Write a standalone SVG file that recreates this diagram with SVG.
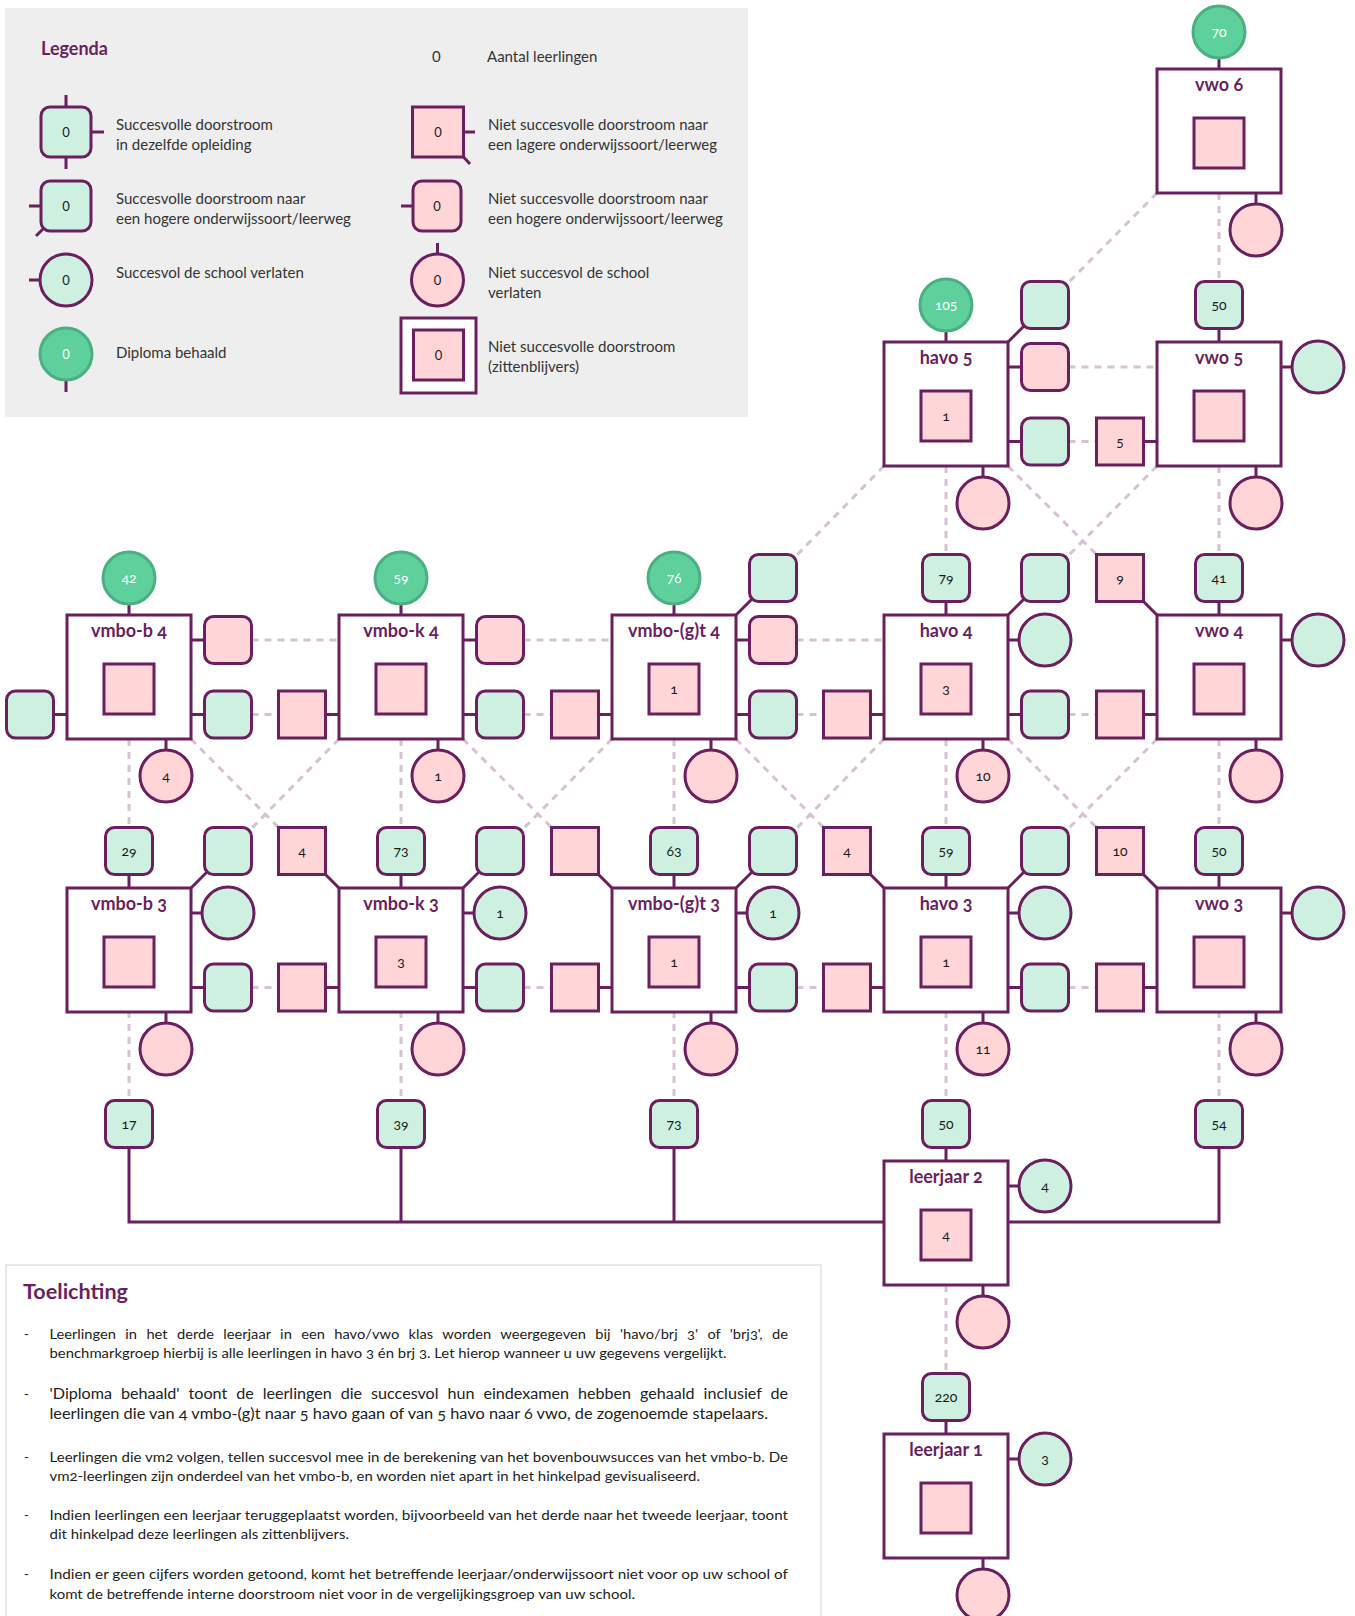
<svg xmlns="http://www.w3.org/2000/svg" width="1355" height="1616" viewBox="0 0 1355 1616">
<style>
.box{fill:#fff;stroke:#6b1f5f;stroke-width:3}
.g{fill:#cdf0e0;stroke:#6b1f5f;stroke-width:3}
.p{fill:#ffd5d8;stroke:#6b1f5f;stroke-width:3}
.d{fill:#5dd09c;stroke:#4caf82;stroke-width:3}
.c{fill:none;stroke:#6b1f5f;stroke-width:3}
.ds{fill:none;stroke:#d8c0d5;stroke-width:3;stroke-dasharray:7 6}
.t{font-family:Lato,"Open Sans","DejaVu Sans",sans-serif;font-weight:700;font-size:18px;fill:#6b1f5f;text-anchor:middle;font-variant-numeric:oldstyle-nums}
.n{font-family:Lato,"Open Sans","DejaVu Sans",sans-serif;font-size:14px;fill:#1a1a1a;text-anchor:middle;font-variant-numeric:oldstyle-nums}
.l0{font-family:Lato,"Open Sans","DejaVu Sans",sans-serif;font-size:13px;fill:#1a1a1a;text-anchor:middle}
.w{fill:#fff}
.lg{font-family:Lato,"Open Sans","DejaVu Sans",sans-serif;font-size:15px;fill:#333}
.h{font-family:Lato,"Open Sans","DejaVu Sans",sans-serif;font-weight:700;fill:#6b1f5f}
.b{font-family:Lato,"Open Sans","DejaVu Sans",sans-serif;font-size:13px;fill:#222;font-variant-numeric:oldstyle-nums}
.b2{font-family:Lato,"Open Sans","DejaVu Sans",sans-serif;font-size:14.5px;fill:#222;font-variant-numeric:oldstyle-nums}
</style>

<!-- Legend -->
<g id="legenda">
<rect x="5" y="8" width="743" height="409" fill="#eeeeee"/>
<text class="h" x="41" y="55" font-size="18">Legenda</text>
<text class="lg" x="432" y="62">0</text>
<text class="lg" x="487" y="62">Aantal leerlingen</text>
<path class="c" d="M66 95V107M66 157V169M91 132H104M29 206H41M44 228L36 236M29 280H40M66 380V392M463.5 132H475M463.5 157L470 164M401 206H413M437.5 243V254"/>
<rect class="g" x="41" y="107" width="50" height="50" rx="9"/>
<text class="l0" x="66" y="137">0</text>
<text class="lg" x="116" y="130">Succesvolle doorstroom</text>
<text class="lg" x="116" y="150">in dezelfde opleiding</text>
<rect class="g" x="41" y="181" width="50" height="50" rx="9"/>
<text class="l0" x="66" y="211">0</text>
<text class="lg" x="116" y="204">Succesvolle doorstroom naar</text>
<text class="lg" x="116" y="224">een hogere onderwijssoort/leerweg</text>
<circle class="g" cx="66" cy="280" r="26"/>
<text class="l0" x="66" y="285">0</text>
<text class="lg" x="116" y="278">Succesvol de school verlaten</text>
<circle class="d" cx="66" cy="354" r="26"/>
<text class="l0 w" x="66" y="359">0</text>
<text class="lg" x="116" y="358">Diploma behaald</text>
<rect class="p" x="412.5" y="107" width="51" height="50"/>
<text class="l0" x="438" y="137">0</text>
<text class="lg" x="488" y="130">Niet succesvolle doorstroom naar</text>
<text class="lg" x="488" y="150">een lagere onderwijssoort/leerweg</text>
<rect class="p" x="413" y="181" width="48" height="50" rx="9"/>
<text class="l0" x="437" y="211">0</text>
<text class="lg" x="488" y="204">Niet succesvolle doorstroom naar</text>
<text class="lg" x="488" y="224">een hogere onderwijssoort/leerweg</text>
<circle class="p" cx="437.5" cy="280" r="26"/>
<text class="l0" x="437.5" y="285">0</text>
<text class="lg" x="488" y="278">Niet succesvol de school</text>
<text class="lg" x="488" y="298">verlaten</text>
<rect class="box" x="401" y="318" width="75" height="75"/>
<rect class="p" x="413.5" y="330" width="50" height="50"/>
<text class="l0" x="438.5" y="360">0</text>
<text class="lg" x="488" y="352">Niet succesvolle doorstroom</text>
<text class="lg" x="488" y="372">(zittenblijvers)</text>
</g>

<!-- Connectors -->
<g id="connectors">
<path class="ds" d="M1219 193V281.5M1157 193L1067 284M1068.5 367H1157M1068.5 441.5H1096.5M946 466V554.5M1219 466V554.5M884 466L795 557M1008 466L1096.5 554.5M1157 466L1067 557"/>
<path class="ds" d="M251.5 640H339M523.5 640H612M796.5 640H884M251.5 714.5H278.5M523.5 714.5H551.5M796.5 714.5H823.5M1068.5 714.5H1096.5"/>
<path class="ds" d="M129 739V827.5M401 739V827.5M674 739V827.5M946 739V827.5M1219 739V827.5M191 739L278.5 827.5M339 739L250 830M463 739L551.5 827.5M612 739L522 830M736 739L823.5 827.5M884 739L795 830M1008 739L1096.5 827.5M1157 739L1067 830"/>
<path class="ds" d="M251.5 987.5H278.5M523.5 987.5H551.5M796.5 987.5H823.5M1068.5 987.5H1096.5M129 1011V1100.5M401 1011V1100.5M674 1011V1100.5M946 1011V1100.5M1219 1011V1100.5M946 1285V1373.5"/>
<path class="c" d="M1219 58V69M1256 193V204"/>
<path class="c" d="M946 331V342M1008 342L1024 326M1008 367H1021.5M1008 441.5H1021.5M983 466V477M1219 328.5V342M1143.5 441.5H1157M1281 367H1292M1256 466V477"/>
<path class="c" d="M129 604V615M191 640H204.5M191 714.5H204.5M53.5 714.5H67M166 739V750"/>
<path class="c" d="M401 604V615M463 640H476.5M463 714.5H476.5M325.5 714.5H339M438 739V750"/>
<path class="c" d="M674 604V615M736 615L752 599M736 640H749.5M736 714.5H749.5M598.5 714.5H612M711 739V750"/>
<path class="c" d="M946 601.5V615M1008 615L1024 599M1008 640H1019M1008 714.5H1021.5M870.5 714.5H884M983 739V750"/>
<path class="c" d="M1219 601.5V615M1143.5 601.5L1157 615M1281 640H1292M1143.5 714.5H1157M1256 739V750"/>
<path class="c" d="M129 874.5V888M191 888L207 872M191 913H202M191 987.5H204.5M166 1011V1023"/>
<path class="c" d="M401 874.5V888M325.5 874.5L339 888M463 888L479 872M463 913H474M463 987.5H476.5M325.5 987.5H339M438 1011V1023"/>
<path class="c" d="M674 874.5V888M598.5 874.5L612 888M736 888L752 872M736 913H747M736 987.5H749.5M598.5 987.5H612M711 1011V1023"/>
<path class="c" d="M946 874.5V888M870.5 874.5L884 888M1008 888L1024 872M1008 913H1019M1008 987.5H1021.5M870.5 987.5H884M983 1011V1023"/>
<path class="c" d="M1219 874.5V888M1143.5 874.5L1157 888M1281 913H1292M1143.5 987.5H1157M1256 1011V1023"/>
<path class="c" d="M129 1147.5V1222H884M401 1147.5V1222M674 1147.5V1222M946 1147.5V1161M1219 1147.5V1222H1008M1008 1186H1019M983 1285V1296"/>
<path class="c" d="M946 1420.5V1434M1008 1459H1019M983 1558V1569"/>
</g>

<!-- vwo 6 -->
<g id="vwo6">
<rect class="box" x="1157" y="69" width="124" height="124"/>
<text class="t" x="1219" y="91">vwo 6</text>
<rect class="p" x="1194" y="118" width="50" height="50"/>
</g>
<g id="vwo6-diploma"><circle class="d" cx="1219" cy="32" r="26"/><text class="n w" x="1219" y="37">70</text></g>
<g id="vwo6-uit"><circle class="p" cx="1256" cy="230" r="26"/></g>

<!-- havo 5 -->
<g id="havo5">
<rect class="box" x="884" y="342" width="124" height="124"/>
<text class="t" x="946" y="364">havo 5</text>
<rect class="p" x="921" y="391" width="50" height="50"/>
<text class="n" x="946" y="421">1</text>
</g>
<g id="havo5-diploma"><circle class="d" cx="946" cy="305" r="26"/><text class="n w" x="946" y="310">105</text></g>
<g id="havo5-vwo6"><rect class="g" x="1021.5" y="281.5" width="47" height="47" rx="9"/></g>
<g id="havo5-vwo5-niet"><rect class="p" x="1021.5" y="343.5" width="47" height="47" rx="9"/></g>
<g id="havo5-vwo5"><rect class="g" x="1021.5" y="418" width="47" height="47" rx="9"/></g>
<g id="havo5-uit"><circle class="p" cx="983" cy="503" r="26"/></g>

<!-- vwo 5 -->
<g id="vwo5">
<rect class="box" x="1157" y="342" width="124" height="124"/>
<text class="t" x="1219" y="364">vwo 5</text>
<rect class="p" x="1194" y="391" width="50" height="50"/>
</g>
<g id="vwo5-vwo6"><rect class="g" x="1195.5" y="281.5" width="47" height="47" rx="9"/><text class="n" x="1219" y="310">50</text></g>
<g id="vwo5-havo5"><rect class="p" x="1096.5" y="418" width="47" height="47"/><text class="n" x="1120" y="446.5">5</text></g>
<g id="vwo5-succes"><circle class="g" cx="1318" cy="367" r="26"/></g>
<g id="vwo5-uit"><circle class="p" cx="1256" cy="503" r="26"/></g>

<!-- vmbo-b 4 -->
<g id="vmbo-b4">
<rect class="box" x="67" y="615" width="124" height="124"/>
<text class="t" x="129" y="637">vmbo-b 4</text>
<rect class="p" x="104" y="664" width="50" height="50"/>
</g>
<g id="vmbo-b4-diploma"><circle class="d" cx="129" cy="578" r="26"/><text class="n w" x="129" y="583">42</text></g>
<g id="vmbo-b4-k4-niet"><rect class="p" x="204.5" y="616.5" width="47" height="47" rx="9"/></g>
<g id="vmbo-b4-k4"><rect class="g" x="204.5" y="691" width="47" height="47" rx="9"/></g>
<g id="vmbo-b4-in"><rect class="g" x="6.5" y="691" width="47" height="47" rx="9"/></g>
<g id="vmbo-b4-uit"><circle class="p" cx="166" cy="776" r="26"/><text class="n" x="166" y="781">4</text></g>

<!-- vmbo-k 4 -->
<g id="vmbo-k4">
<rect class="box" x="339" y="615" width="124" height="124"/>
<text class="t" x="401" y="637">vmbo-k 4</text>
<rect class="p" x="376" y="664" width="50" height="50"/>
</g>
<g id="vmbo-k4-diploma"><circle class="d" cx="401" cy="578" r="26"/><text class="n w" x="401" y="583">59</text></g>
<g id="vmbo-k4-gt4-niet"><rect class="p" x="476.5" y="616.5" width="47" height="47" rx="9"/></g>
<g id="vmbo-k4-gt4"><rect class="g" x="476.5" y="691" width="47" height="47" rx="9"/></g>
<g id="vmbo-k4-b4"><rect class="p" x="278.5" y="691" width="47" height="47"/></g>
<g id="vmbo-k4-uit"><circle class="p" cx="438" cy="776" r="26"/><text class="n" x="438" y="781">1</text></g>

<!-- vmbo-(g)t 4 -->
<g id="vmbo-gt4">
<rect class="box" x="612" y="615" width="124" height="124"/>
<text class="t" x="674" y="637">vmbo-(g)t 4</text>
<rect class="p" x="649" y="664" width="50" height="50"/>
<text class="n" x="674" y="694">1</text>
</g>
<g id="vmbo-gt4-diploma"><circle class="d" cx="674" cy="578" r="26"/><text class="n w" x="674" y="583">76</text></g>
<g id="vmbo-gt4-havo5"><rect class="g" x="749.5" y="554.5" width="47" height="47" rx="9"/></g>
<g id="vmbo-gt4-havo4-niet"><rect class="p" x="749.5" y="616.5" width="47" height="47" rx="9"/></g>
<g id="vmbo-gt4-havo4"><rect class="g" x="749.5" y="691" width="47" height="47" rx="9"/></g>
<g id="vmbo-gt4-k4"><rect class="p" x="551.5" y="691" width="47" height="47"/></g>
<g id="vmbo-gt4-uit"><circle class="p" cx="711" cy="776" r="26"/></g>

<!-- havo 4 -->
<g id="havo4">
<rect class="box" x="884" y="615" width="124" height="124"/>
<text class="t" x="946" y="637">havo 4</text>
<rect class="p" x="921" y="664" width="50" height="50"/>
<text class="n" x="946" y="694">3</text>
</g>
<g id="havo4-havo5"><rect class="g" x="922.5" y="554.5" width="47" height="47" rx="9"/><text class="n" x="946" y="583">79</text></g>
<g id="havo4-vwo5"><rect class="g" x="1021.5" y="554.5" width="47" height="47" rx="9"/></g>
<g id="havo4-succes"><circle class="g" cx="1045" cy="640" r="26"/></g>
<g id="havo4-vwo4"><rect class="g" x="1021.5" y="691" width="47" height="47" rx="9"/></g>
<g id="havo4-gt4"><rect class="p" x="823.5" y="691" width="47" height="47"/></g>
<g id="havo4-uit"><circle class="p" cx="983" cy="776" r="26"/><text class="n" x="983" y="781">10</text></g>

<!-- vwo 4 -->
<g id="vwo4">
<rect class="box" x="1157" y="615" width="124" height="124"/>
<text class="t" x="1219" y="637">vwo 4</text>
<rect class="p" x="1194" y="664" width="50" height="50"/>
</g>
<g id="vwo4-vwo5"><rect class="g" x="1195.5" y="554.5" width="47" height="47" rx="9"/><text class="n" x="1219" y="583">41</text></g>
<g id="vwo4-havo5"><rect class="p" x="1096.5" y="554.5" width="47" height="47"/><text class="n" x="1120" y="583">9</text></g>
<g id="vwo4-succes"><circle class="g" cx="1318" cy="640" r="26"/></g>
<g id="vwo4-havo4"><rect class="p" x="1096.5" y="691" width="47" height="47"/></g>
<g id="vwo4-uit"><circle class="p" cx="1256" cy="776" r="26"/></g>

<!-- vmbo-b 3 -->
<g id="vmbo-b3">
<rect class="box" x="67" y="888" width="124" height="124"/>
<text class="t" x="129" y="910">vmbo-b 3</text>
<rect class="p" x="104" y="937" width="50" height="50"/>
</g>
<g id="vmbo-b3-b4"><rect class="g" x="105.5" y="827.5" width="47" height="47" rx="9"/><text class="n" x="129" y="856">29</text></g>
<g id="vmbo-b3-k4"><rect class="g" x="204.5" y="827.5" width="47" height="47" rx="9"/></g>
<g id="vmbo-b3-succes"><circle class="g" cx="228" cy="913" r="26"/></g>
<g id="vmbo-b3-k3"><rect class="g" x="204.5" y="964" width="47" height="47" rx="9"/></g>
<g id="vmbo-b3-uit"><circle class="p" cx="166" cy="1049" r="26"/></g>

<!-- vmbo-k 3 -->
<g id="vmbo-k3">
<rect class="box" x="339" y="888" width="124" height="124"/>
<text class="t" x="401" y="910">vmbo-k 3</text>
<rect class="p" x="376" y="937" width="50" height="50"/>
<text class="n" x="401" y="967">3</text>
</g>
<g id="vmbo-k3-k4"><rect class="g" x="377.5" y="827.5" width="47" height="47" rx="9"/><text class="n" x="401" y="856">73</text></g>
<g id="vmbo-k3-b4"><rect class="p" x="278.5" y="827.5" width="47" height="47"/><text class="n" x="302" y="856">4</text></g>
<g id="vmbo-k3-gt4"><rect class="g" x="476.5" y="827.5" width="47" height="47" rx="9"/></g>
<g id="vmbo-k3-succes"><circle class="g" cx="500" cy="913" r="26"/><text class="n" x="500" y="918">1</text></g>
<g id="vmbo-k3-gt3"><rect class="g" x="476.5" y="964" width="47" height="47" rx="9"/></g>
<g id="vmbo-k3-b3"><rect class="p" x="278.5" y="964" width="47" height="47"/></g>
<g id="vmbo-k3-uit"><circle class="p" cx="438" cy="1049" r="26"/></g>

<!-- vmbo-(g)t 3 -->
<g id="vmbo-gt3">
<rect class="box" x="612" y="888" width="124" height="124"/>
<text class="t" x="674" y="910">vmbo-(g)t 3</text>
<rect class="p" x="649" y="937" width="50" height="50"/>
<text class="n" x="674" y="967">1</text>
</g>
<g id="vmbo-gt3-gt4"><rect class="g" x="650.5" y="827.5" width="47" height="47" rx="9"/><text class="n" x="674" y="856">63</text></g>
<g id="vmbo-gt3-k4"><rect class="p" x="551.5" y="827.5" width="47" height="47"/></g>
<g id="vmbo-gt3-havo4"><rect class="g" x="749.5" y="827.5" width="47" height="47" rx="9"/></g>
<g id="vmbo-gt3-succes"><circle class="g" cx="773" cy="913" r="26"/><text class="n" x="773" y="918">1</text></g>
<g id="vmbo-gt3-havo3"><rect class="g" x="749.5" y="964" width="47" height="47" rx="9"/></g>
<g id="vmbo-gt3-k3"><rect class="p" x="551.5" y="964" width="47" height="47"/></g>
<g id="vmbo-gt3-uit"><circle class="p" cx="711" cy="1049" r="26"/></g>

<!-- havo 3 -->
<g id="havo3">
<rect class="box" x="884" y="888" width="124" height="124"/>
<text class="t" x="946" y="910">havo 3</text>
<rect class="p" x="921" y="937" width="50" height="50"/>
<text class="n" x="946" y="967">1</text>
</g>
<g id="havo3-havo4"><rect class="g" x="922.5" y="827.5" width="47" height="47" rx="9"/><text class="n" x="946" y="856">59</text></g>
<g id="havo3-gt4"><rect class="p" x="823.5" y="827.5" width="47" height="47"/><text class="n" x="847" y="856">4</text></g>
<g id="havo3-vwo4"><rect class="g" x="1021.5" y="827.5" width="47" height="47" rx="9"/></g>
<g id="havo3-succes"><circle class="g" cx="1045" cy="913" r="26"/></g>
<g id="havo3-vwo3"><rect class="g" x="1021.5" y="964" width="47" height="47" rx="9"/></g>
<g id="havo3-gt3"><rect class="p" x="823.5" y="964" width="47" height="47"/></g>
<g id="havo3-uit"><circle class="p" cx="983" cy="1049" r="26"/><text class="n" x="983" y="1054">11</text></g>

<!-- vwo 3 -->
<g id="vwo3">
<rect class="box" x="1157" y="888" width="124" height="124"/>
<text class="t" x="1219" y="910">vwo 3</text>
<rect class="p" x="1194" y="937" width="50" height="50"/>
</g>
<g id="vwo3-vwo4"><rect class="g" x="1195.5" y="827.5" width="47" height="47" rx="9"/><text class="n" x="1219" y="856">50</text></g>
<g id="vwo3-havo4"><rect class="p" x="1096.5" y="827.5" width="47" height="47"/><text class="n" x="1120" y="856">10</text></g>
<g id="vwo3-succes"><circle class="g" cx="1318" cy="913" r="26"/></g>
<g id="vwo3-havo3"><rect class="p" x="1096.5" y="964" width="47" height="47"/></g>
<g id="vwo3-uit"><circle class="p" cx="1256" cy="1049" r="26"/></g>

<!-- leerjaar 2 -->
<g id="lj2-b3"><rect class="g" x="105.5" y="1100.5" width="47" height="47" rx="9"/><text class="n" x="129" y="1129">17</text></g>
<g id="lj2-k3"><rect class="g" x="377.5" y="1100.5" width="47" height="47" rx="9"/><text class="n" x="401" y="1129">39</text></g>
<g id="lj2-gt3"><rect class="g" x="650.5" y="1100.5" width="47" height="47" rx="9"/><text class="n" x="674" y="1129">73</text></g>
<g id="lj2-havo3"><rect class="g" x="922.5" y="1100.5" width="47" height="47" rx="9"/><text class="n" x="946" y="1129">50</text></g>
<g id="lj2-vwo3"><rect class="g" x="1195.5" y="1100.5" width="47" height="47" rx="9"/><text class="n" x="1219" y="1129">54</text></g>
<g id="leerjaar2">
<rect class="box" x="884" y="1161" width="124" height="124"/>
<text class="t" x="946" y="1183">leerjaar 2</text>
<rect class="p" x="921" y="1210" width="50" height="50"/>
<text class="n" x="946" y="1240">4</text>
</g>
<g id="lj2-succes"><circle class="g" cx="1045" cy="1186" r="26"/><text class="n" x="1045" y="1191">4</text></g>
<g id="lj2-uit"><circle class="p" cx="983" cy="1322" r="26"/></g>

<!-- leerjaar 1 -->
<g id="lj1-lj2"><rect class="g" x="922.5" y="1373.5" width="47" height="47" rx="9"/><text class="n" x="946" y="1402">220</text></g>
<g id="leerjaar1">
<rect class="box" x="884" y="1434" width="124" height="124"/>
<text class="t" x="946" y="1456">leerjaar 1</text>
<rect class="p" x="921" y="1483" width="50" height="50"/>
</g>
<g id="lj1-succes"><circle class="g" cx="1045" cy="1459" r="26"/><text class="n" x="1045" y="1464">3</text></g>
<g id="lj1-uit"><circle class="p" cx="983" cy="1595" r="26"/></g>

<!-- Toelichting -->
<g id="toelichting">
<rect x="6" y="1265" width="815" height="365" fill="#fff" stroke="#e8e8e8" stroke-width="2"/>
<text class="h" x="23" y="1299" font-size="20" textLength="105" lengthAdjust="spacingAndGlyphs">Toelichting</text>
<text class="b" x="24" y="1339">-</text>
<text class="b" x="49.5" y="1339" word-spacing="5" textLength="738.5" lengthAdjust="spacingAndGlyphs">Leerlingen in het derde leerjaar in een havo/vwo klas worden weergegeven bij 'havo/brj 3' of 'brj3', de</text>
<text class="b" x="49.5" y="1358" textLength="677" lengthAdjust="spacingAndGlyphs">benchmarkgroep hierbij is alle leerlingen in havo 3 én brj 3. Let hierop wanneer u uw gegevens vergelijkt.</text>
<text class="b" x="24" y="1399">-</text>
<text class="b2" x="49.5" y="1399" word-spacing="4.3" textLength="738.5" lengthAdjust="spacingAndGlyphs">'Diploma behaald' toont de leerlingen die succesvol hun eindexamen hebben gehaald inclusief de</text>
<text class="b2" x="49.5" y="1419" textLength="718.5" lengthAdjust="spacingAndGlyphs">leerlingen die van 4 vmbo-(g)t naar 5 havo gaan of van 5 havo naar 6 vwo, de zogenoemde stapelaars.</text>
<text class="b" x="24" y="1462">-</text>
<text class="b" x="49.5" y="1462" textLength="738.5" lengthAdjust="spacingAndGlyphs">Leerlingen die vm2 volgen, tellen succesvol mee in de berekening van het bovenbouwsucces van het vmbo-b. De</text>
<text class="b" x="49.5" y="1481" textLength="650.5" lengthAdjust="spacingAndGlyphs">vm2-leerlingen zijn onderdeel van het vmbo-b, en worden niet apart in het hinkelpad gevisualiseerd.</text>
<text class="b" x="24" y="1520">-</text>
<text class="b" x="49.5" y="1520" textLength="738.5" lengthAdjust="spacingAndGlyphs">Indien leerlingen een leerjaar teruggeplaatst worden, bijvoorbeeld van het derde naar het tweede leerjaar, toont</text>
<text class="b" x="49.5" y="1539" textLength="299.5" lengthAdjust="spacingAndGlyphs">dit hinkelpad deze leerlingen als zittenblijvers.</text>
<text class="b" x="24" y="1579">-</text>
<text class="b" x="49.5" y="1579" textLength="738.5" lengthAdjust="spacingAndGlyphs">Indien er geen cijfers worden getoond, komt het betreffende leerjaar/onderwijssoort niet voor op uw school of</text>
<text class="b" x="49.5" y="1599" textLength="585.5" lengthAdjust="spacingAndGlyphs">komt de betreffende interne doorstroom niet voor in de vergelijkingsgroep van uw school.</text>
</g>
</svg>
